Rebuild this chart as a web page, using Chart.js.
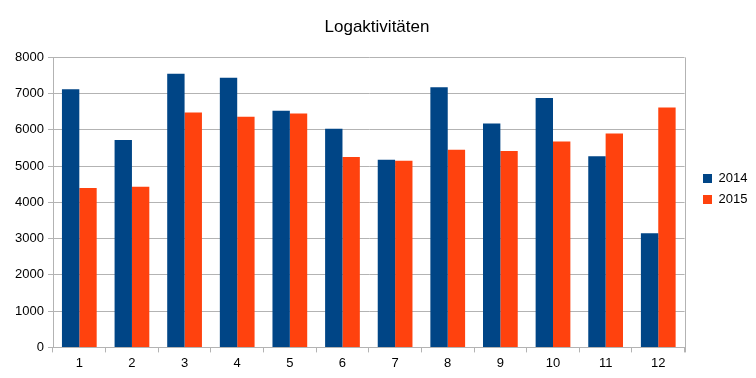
<!DOCTYPE html>
<html>
<head>
<meta charset="utf-8">
<script src="https://cdn.jsdelivr.net/npm/chart.js@4.4.1/dist/chart.umd.min.js"></script>
<style>
  html, body { margin: 0; padding: 0; background: #fff; }
  #wrap { width: 756px; height: 378px; position: relative; }
</style>
</head>
<body>
<div id="wrap"><canvas id="c" width="756" height="378"></canvas></div>
<script>
const months = ["1","2","3","4","5","6","7","8","9","10","11","12"];
const values2014 = [7120, 5720, 7550, 7440, 6530, 6030, 5180, 7180, 6180, 6880, 5270, 3150];
const values2015 = [4400, 4430, 6480, 6360, 6450, 5250, 5150, 5450, 5420, 5680, 5900, 6620];
const yTicks = [0, 1000, 2000, 3000, 4000, 5000, 6000, 7000, 8000];

const frame = {
  id: 'frame',
  afterLayout(chart) {
    const lg = chart.legend;
    if (lg) {
      const dx = 703 - (lg.left + 8);
      lg.left += dx; lg.right += dx;
      lg.top += 2; lg.bottom += 2;
    }
    const tb = chart.titleBlock;
    if (tb) {
      const dx = 377 - (tb.left + tb.right) / 2;
      tb.left += dx; tb.right += dx;
    }
  },
  afterDatasetsDraw(chart) {
    const a = chart.chartArea, ctx = chart.ctx;
    ctx.save();
    ctx.strokeStyle = '#b3b3b3';
    ctx.lineWidth = 1;
    ctx.beginPath();
    ctx.moveTo(Math.round(a.right) + 0.5, a.top);
    ctx.lineTo(Math.round(a.right) + 0.5, a.bottom + 5);
    ctx.stroke();
    ctx.restore();
  }
};

Chart.defaults.font.family = '"Liberation Sans", Arial, sans-serif';
Chart.defaults.color = '#000';

new Chart(document.getElementById('c'), {
  type: 'bar',
  data: {
    labels: months,
    datasets: [
      { label: '2014', data: values2014, backgroundColor: '#004586', borderWidth: 0 },
      { label: '2015', data: values2015, backgroundColor: '#ff420e', borderWidth: 0 }
    ]
  },
  options: {
    responsive: false,
    animation: false,
    layout: { padding: { left: 14, right: 9, top: 0, bottom: 4 } },
    datasets: { bar: { categoryPercentage: 0.66, barPercentage: 1.0 } },
    plugins: {
      title: {
        display: true,
        text: 'Logaktivitäten',
        color: '#000',
        font: { size: 17, weight: 'normal' },
        padding: { top: 17, bottom: 20 }
      },
      legend: {
        position: 'right',
        labels: { boxWidth: 9, boxHeight: 9, padding: 8, font: { size: 13 }, color: '#000' }
      },
      tooltip: { enabled: false }
    },
    scales: {
      x: {
        grid: { display: true, drawOnChartArea: false, offset: true, color: '#b3b3b3', tickLength: 5 },
        border: { color: '#b3b3b3' },
        ticks: { font: { size: 13 }, color: '#000', padding: 3, maxRotation: 0 }
      },
      y: {
        min: 0, max: 8000,
        afterBuildTicks: (s) => { s.ticks = yTicks.map(v => ({ value: v })); },
        grid: { color: '#b3b3b3', tickLength: 5 },
        border: { color: '#b3b3b3' },
        ticks: { font: { size: 13 }, color: '#000', padding: 4, callback: (v) => String(v) },
        afterFit: (s) => { s.width = 39; }
      }
    }
  },
  plugins: [frame]
});
</script>
</body>
</html>
